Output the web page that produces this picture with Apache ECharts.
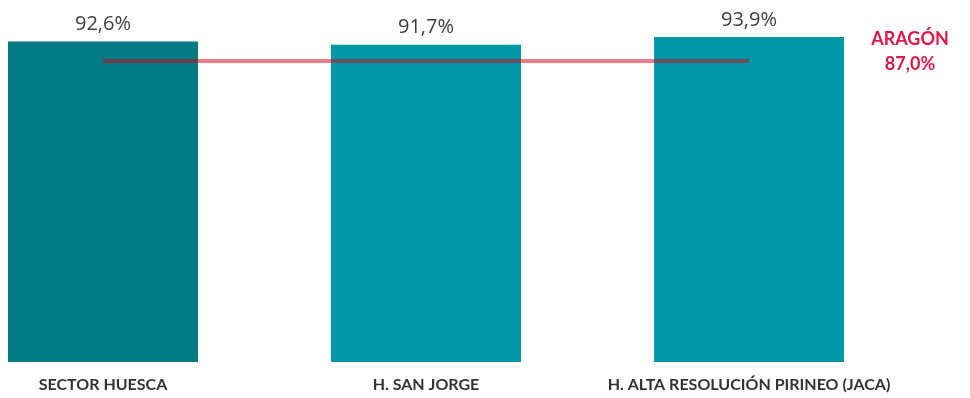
<!DOCTYPE html>
<html>
<head>
<meta charset="utf-8">
<script src="https://cdn.jsdelivr.net/npm/echarts@6/dist/echarts.min.js"></script>
<style>
html,body{margin:0;padding:0;background:#fff;}
#chart{width:970px;height:398px;}
</style>
</head>
<body>
<div id="chart"></div>
<script>
var categories = ['SECTOR HUESCA', 'H. SAN JORGE', 'H. ALTA RESOLUCIÓN PIRINEO (JACA)'];
var values = [92.6, 91.7, 93.9];
var aragonValue = 87.0;
var aragonName = 'ARAGÓN';
var barColors = ['#037b84', '#0098a8', '#0098a8'];

function fmt(v) { return v.toFixed(1).replace('.', ',') + '%'; }

var chart = echarts.init(document.getElementById('chart'), null, {renderer: 'canvas'});
chart.setOption({
  animation: false,
  backgroundColor: '#ffffff',
  grid: {left: 103, right: 221, top: 16, bottom: 36, containLabel: false},
  xAxis: {
    type: 'category',
    data: categories,
    boundaryGap: false,
    axisLine: {show: false},
    axisTick: {show: false},
    axisLabel: {
      interval: 0, margin: 15,
      fontFamily: 'Lato, "Open Sans", sans-serif', fontWeight: 'bold', fontSize: 16, color: '#333333'
    }
  },
  yAxis: {
    type: 'value', min: 0, max: 100,
    show: false, splitLine: {show: false}
  },
  series: [
    {
      type: 'bar',
      barWidth: 190,
      data: values.map(function (v, i) { return {value: v, itemStyle: {color: barColors[i]}}; }),
      label: {
        show: true, position: 'top', distance: 7,
        formatter: function (p) { return fmt(p.value); },
        fontFamily: '"Open Sans", Lato, sans-serif', fontSize: 20, color: '#404040'
      },
      z: 2
    },
    {
      type: 'line',
      data: categories.map(function () { return aragonValue; }),
      symbol: 'none',
      lineStyle: {color: 'rgba(215,0,20,0.5)', width: 4},
      z: 3,
      endLabel: {
        show: true,
        formatter: function () { return aragonName + '\n' + fmt(aragonValue); },
        distance: 0,
        align: 'center',
        verticalAlign: 'middle',
        offset: [161, -9],
        lineHeight: 25,
        fontFamily: 'Lato, "Open Sans", sans-serif', fontWeight: 'bold', fontSize: 18, color: '#e0184a'
      }
    }
  ]
});
</script>
</body>
</html>
